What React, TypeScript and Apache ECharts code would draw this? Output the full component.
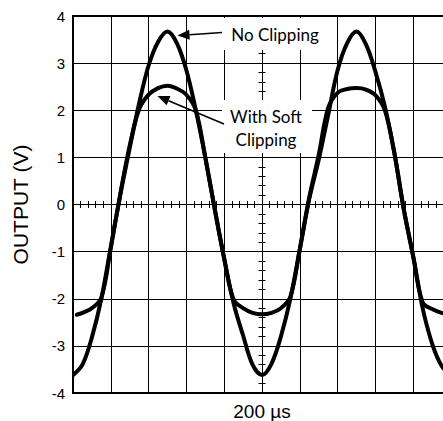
import React, { useEffect, useRef } from "react";
import * as echarts from "echarts";

// time in screen divisions (10 divisions, 200 µs/div)
const timeDiv = [
  0, 0.25, 0.5, 0.75, 1, 1.25, 1.5, 1.75, 2, 2.25, 2.5, 2.75, 3, 3.25, 3.5, 3.75,
  4, 4.25, 4.5, 4.75, 5, 5.25, 5.5, 5.75, 6, 6.25, 6.5, 6.75, 7, 7.25, 7.5, 7.75,
  8, 8.25, 8.5, 8.75, 9, 9.25, 9.5, 9.75, 10,
];
const noClipping = [
  -3.62, -3.4, -2.82, -2.0, -0.9, 0.2, 1.2, 2.15, 2.95, 3.45, 3.67, 3.42, 2.85, 2.0, 1.0, -0.1,
  -1.15, -2.1, -2.78, -3.4, -3.62, -3.38, -2.8, -2.0, -0.95, 0.12, 0.95, 1.9, 2.85, 3.42, 3.67, 3.4,
  2.82, 2.08, 1.1, -0.1, -1.1, -2.2, -2.95, -3.42, -3.62,
];
const softTimeDiv = [
  0.1, 0.25, 0.5, 0.75, 1, 1.25, 1.5, 1.75, 2, 2.25, 2.5, 2.75, 3, 3.25, 3.5, 3.75,
  4, 4.25, 4.5, 4.75, 5, 5.25, 5.5, 5.75, 6, 6.25, 6.5, 6.75, 7, 7.25, 7.5, 7.75,
  8, 8.25, 8.5, 8.75, 9, 9.25, 9.5, 9.75, 10,
];
const softClipping = [
  -2.34, -2.3, -2.2, -1.98, -0.92, 0.22, 1.25, 2.02, 2.33, 2.47, 2.52, 2.46, 2.33, 2.0, 1.0, -0.1,
  -1.15, -2.02, -2.2, -2.3, -2.33, -2.3, -2.2, -1.96, -0.95, 0.15, 1.05, 2.05, 2.37, 2.45, 2.47, 2.44,
  2.32, 2.0, 1.1, -0.1, -1.1, -2.08, -2.22, -2.3, -2.33,
];
const seriesNames = ["No Clipping", "With Soft Clipping"];
const yAxisName = "OUTPUT (V)";
const xAxisName = "200 \u00b5s";

const GRID = { left: 73, top: 16, width: 378, height: 377 };
const FONT = "Liberation Sans, Arial, sans-serif";

function arrow(x1: number, y1: number, x2: number, y2: number) {
  const dx = x2 - x1;
  const dy = y2 - y1;
  const len = Math.sqrt(dx * dx + dy * dy);
  const ux = dx / len;
  const uy = dy / len;
  const hl = 12;
  const hw = 5;
  const bx = x2 - ux * hl;
  const by = y2 - uy * hl;
  return [
    {
      type: "line",
      z: 3,
      shape: { x1, y1, x2: bx, y2: by },
      style: { stroke: "#000", lineWidth: 1.6 },
    },
    {
      type: "polygon",
      z: 3,
      shape: {
        points: [
          [x2, y2],
          [bx - uy * hw, by + ux * hw],
          [bx + uy * hw, by - ux * hw],
        ],
      },
      style: { fill: "#000" },
    },
  ];
}

export default function App() {
  const ref = useRef<HTMLDivElement>(null);
  useEffect(() => {
    if (!ref.current) return;
    const chart = echarts.init(ref.current, undefined, { renderer: "svg" });
    const crossAxis = (inside: boolean, gridIndex: number, dim: "x" | "y") => ({
      type: "value",
      gridIndex,
      min: dim === "x" ? -5 : -4,
      max: dim === "x" ? 5 : 4,
      interval: 1,
      axisLine: { show: true, onZero: true, lineStyle: { color: "#000", width: 1 } },
      axisTick: { show: true, inside, length: 3.5, lineStyle: { color: "#000", width: 1 } },
      minorTick: { show: true, splitNumber: 5, length: 3.5, lineStyle: { color: "#000", width: 1 } },
      axisLabel: { show: false },
      splitLine: { show: false },
    });
    const gridBase = { ...GRID, containLabel: false, outerBoundsMode: "none" };
    chart.setOption({
      animation: false,
      backgroundColor: "#fff",
      grid: [
        { ...gridBase, show: true, borderColor: "#000", borderWidth: 2, backgroundColor: "transparent" },
        { ...gridBase },
        { ...gridBase },
      ],
      xAxis: [
        {
          type: "value",
          gridIndex: 0,
          min: 0,
          max: 10,
          interval: 1,
          axisLine: { show: false },
          axisTick: { show: false },
          axisLabel: { show: false },
          splitLine: { show: true, lineStyle: { color: "#000", width: 1 } },
          name: xAxisName,
          nameLocation: "middle",
          nameGap: 9,
          nameTextStyle: { fontFamily: FONT, fontSize: 19, color: "#000", verticalAlign: "top" },
        },
        crossAxis(true, 1, "x"),
        crossAxis(false, 2, "x"),
      ],
      yAxis: [
        {
          type: "value",
          gridIndex: 0,
          min: -4,
          max: 4,
          interval: 1,
          axisLine: { show: false },
          axisTick: { show: false },
          axisLabel: { show: true, fontFamily: FONT, fontSize: 15, color: "#000", margin: 8 },
          splitLine: { show: true, lineStyle: { color: "#000", width: 1 } },
          name: yAxisName,
          nameLocation: "middle",
          nameGap: 42,
          nameTextStyle: { fontFamily: FONT, fontSize: 21, color: "#000" },
        },
        crossAxis(true, 1, "y"),
        crossAxis(false, 2, "y"),
      ],
      series: [
        {
          name: seriesNames[0],
          type: "line",
          xAxisIndex: 0,
          yAxisIndex: 0,
          data: timeDiv.map((t, i) => [t, noClipping[i]]),
          smooth: 0.35,
          symbol: "none",
          lineStyle: { color: "#000", width: 4 },
          z: 5,
        },
        {
          name: seriesNames[1],
          type: "line",
          xAxisIndex: 0,
          yAxisIndex: 0,
          data: softTimeDiv.map((t, i) => [t, softClipping[i]]),
          smooth: 0.35,
          symbol: "none",
          lineStyle: { color: "#000", width: 4, cap: "round" },
          z: 5,
        },
      ],
      graphic: [
        { type: "rect", z: 2, shape: { x: 222, y: 18, width: 100, height: 32 }, style: { fill: "#fff" } },
        { type: "rect", z: 2, shape: { x: 222, y: 100, width: 90, height: 53 }, style: { fill: "#fff" } },
        {
          type: "text",
          z: 3,
          x: 275,
          y: 34.5,
          style: {
            text: seriesNames[0],
            font: "17px Lato",
            fill: "#000",
            align: "center",
            verticalAlign: "middle",
          },
        },
        {
          type: "text",
          z: 3,
          x: 266,
          y: 127.5,
          style: {
            text: "With Soft\nClipping",
            font: "17px Lato",
            lineHeight: 23,
            fill: "#000",
            align: "center",
            verticalAlign: "middle",
          },
        },
        ...arrow(222, 32.5, 177.5, 35.5),
        ...arrow(224, 124, 157.5, 96),
      ],
    });
    return () => chart.dispose();
  }, []);
  return (
    <div
      ref={ref}
      style={{ position: "absolute", left: 0, top: 0, width: 443, height: 421 }}
    />
  );
}
